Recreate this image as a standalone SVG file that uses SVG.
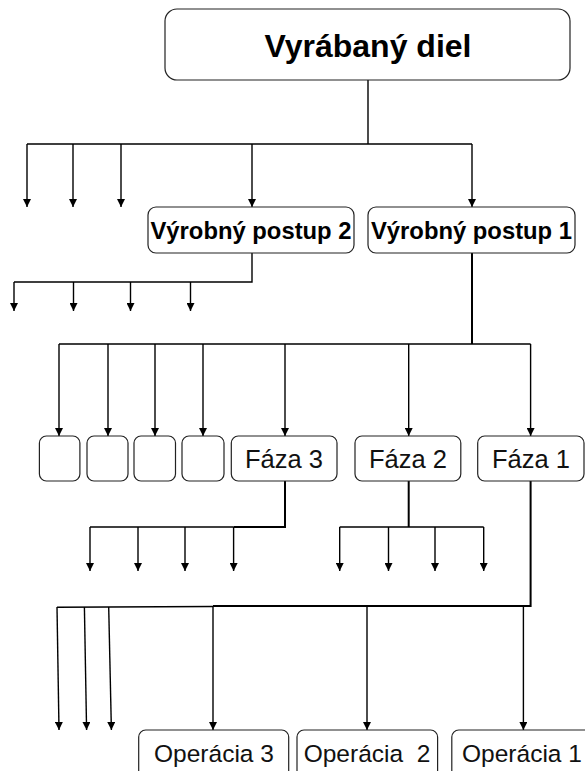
<svg xmlns="http://www.w3.org/2000/svg" width="585" height="771" viewBox="0 0 585 771">
<style>
.box{fill:#fff;stroke:#222;stroke-width:1.2}
.c{fill:none;stroke:#000;stroke-width:1.4}
.t{stroke-width:2}
.a{marker-end:url(#ah)}
.tb{font-family:"Liberation Sans",Arial,sans-serif;font-weight:bold;text-anchor:middle;fill:#000}
.tn{font-family:"Liberation Sans",Arial,sans-serif;text-anchor:middle;fill:#111;white-space:pre}
</style>
<defs>
<marker id="ah" viewBox="0 0 8 8" refX="8" refY="4" markerWidth="8" markerHeight="8" markerUnits="userSpaceOnUse" orient="auto">
<path d="M0,0 L8,4 L0,8 z" fill="#000"/>
</marker>
</defs>
<rect width="585" height="771" fill="#fff"/>
<g id="connectors">
<path class="c" d="M368,80 V144 H27 M368,144 H472"/>
<line class="c a" x1="27" y1="144" x2="27" y2="207"/>
<line class="c a" x1="73" y1="144" x2="73" y2="207"/>
<line class="c a" x1="121" y1="144" x2="121" y2="207"/>
<line class="c a" x1="252" y1="144" x2="252" y2="207"/>
<line class="c a" x1="472" y1="144" x2="472" y2="207"/>
<path class="c" d="M252,253 V282 H14"/>
<line class="c a" x1="14" y1="282" x2="14" y2="311"/>
<line class="c a" x1="73.5" y1="282" x2="73.5" y2="311"/>
<line class="c a" x1="130.5" y1="282" x2="130.5" y2="311"/>
<line class="c a" x1="190.5" y1="282" x2="190.5" y2="311"/>
<path class="c t" d="M472,253 V344"/>
<path class="c" d="M472,344 H59 M472,344 H530.6"/>
<line class="c a" x1="59" y1="344" x2="59" y2="436"/>
<line class="c a" x1="108" y1="344" x2="108" y2="436"/>
<line class="c a" x1="155" y1="344" x2="155" y2="436"/>
<line class="c a" x1="203" y1="344" x2="203" y2="436"/>
<line class="c a" x1="285" y1="344" x2="285" y2="436"/>
<line class="c a" x1="408.7" y1="344" x2="408.7" y2="436"/>
<line class="c a" x1="530.6" y1="344" x2="530.6" y2="436"/>
<path class="c t" d="M285,481 V527 H233.6"/>
<path class="c" d="M233.6,527 H90"/>
<line class="c a" x1="90" y1="527" x2="90" y2="571"/>
<line class="c a" x1="138" y1="527" x2="138" y2="571"/>
<line class="c a" x1="185" y1="527" x2="185" y2="571"/>
<line class="c a" x1="233.6" y1="527" x2="233.6" y2="571"/>
<path class="c t" d="M408.7,481 V527"/>
<path class="c" d="M339.7,527 H483.7"/>
<line class="c a" x1="339.7" y1="527" x2="339.7" y2="571"/>
<line class="c a" x1="388.5" y1="527" x2="388.5" y2="571"/>
<line class="c a" x1="435" y1="527" x2="435" y2="571"/>
<line class="c a" x1="483.7" y1="527" x2="483.7" y2="571"/>
<path class="c t" d="M530.6,481 V606 H213"/>
<path class="c" d="M213,606.5 L57,607.3"/>
<line class="c a" x1="57" y1="607" x2="59" y2="730"/>
<line class="c a" x1="84.4" y1="607" x2="86.6" y2="730"/>
<line class="c a" x1="108.7" y1="607" x2="111.4" y2="730"/>
<line class="c a" x1="213" y1="606" x2="213" y2="730"/>
<line class="c a" x1="367" y1="606" x2="367" y2="730"/>
<line class="c a" x1="523.4" y1="606" x2="523.4" y2="730"/>
</g>
<g id="vyrabany-diel">
<rect class="box" x="165" y="9" width="405" height="71" rx="12"/>
<text class="tb" x="368" y="56.5" font-size="32">Vyrábaný diel</text>
</g>
<g id="postup-2">
<rect class="box" x="148" y="207" width="206" height="46" rx="8"/>
<text class="tb" x="251" y="238.5" font-size="23.8">Výrobný postup 2</text>
</g>
<g id="postup-1">
<rect class="box" x="368" y="207" width="207" height="46" rx="8"/>
<text class="tb" x="471.5" y="238.5" font-size="23.8">Výrobný postup 1</text>
</g>
<g id="box-a"><rect class="box" x="39.4" y="436" width="40.5" height="45" rx="7"/></g>
<g id="box-b"><rect class="box" x="87" y="436" width="41" height="45" rx="7"/></g>
<g id="box-c"><rect class="box" x="134" y="436" width="41.5" height="45" rx="7"/></g>
<g id="box-d"><rect class="box" x="182" y="436" width="42" height="45" rx="7"/></g>
<g id="faza-3">
<rect class="box" x="231.3" y="436" width="105.7" height="45" rx="7"/>
<text class="tn" x="284" y="467.5" font-size="25.5">Fáza 3</text>
</g>
<g id="faza-2">
<rect class="box" x="355" y="436" width="105.8" height="45" rx="7"/>
<text class="tn" x="408" y="467.5" font-size="25.5">Fáza 2</text>
</g>
<g id="faza-1">
<rect class="box" x="477.7" y="436" width="106.3" height="45" rx="7"/>
<text class="tn" x="531" y="467.5" font-size="25.5">Fáza 1</text>
</g>
<g id="operacia-3">
<rect class="box" x="138.7" y="730" width="150" height="60" rx="7"/>
<text class="tn" x="214" y="761.5" font-size="24.5">Operácia 3</text>
</g>
<g id="operacia-2">
<rect class="box" x="297" y="730" width="140.6" height="60" rx="7"/>
<text class="tn" x="367" y="761.5" font-size="24.5">Operácia  2</text>
</g>
<g id="operacia-1">
<rect class="box" x="451.8" y="730" width="145" height="60" rx="7"/>
<text class="tn" x="522" y="761.5" font-size="24.5">Operácia 1</text>
</g>
</svg>
